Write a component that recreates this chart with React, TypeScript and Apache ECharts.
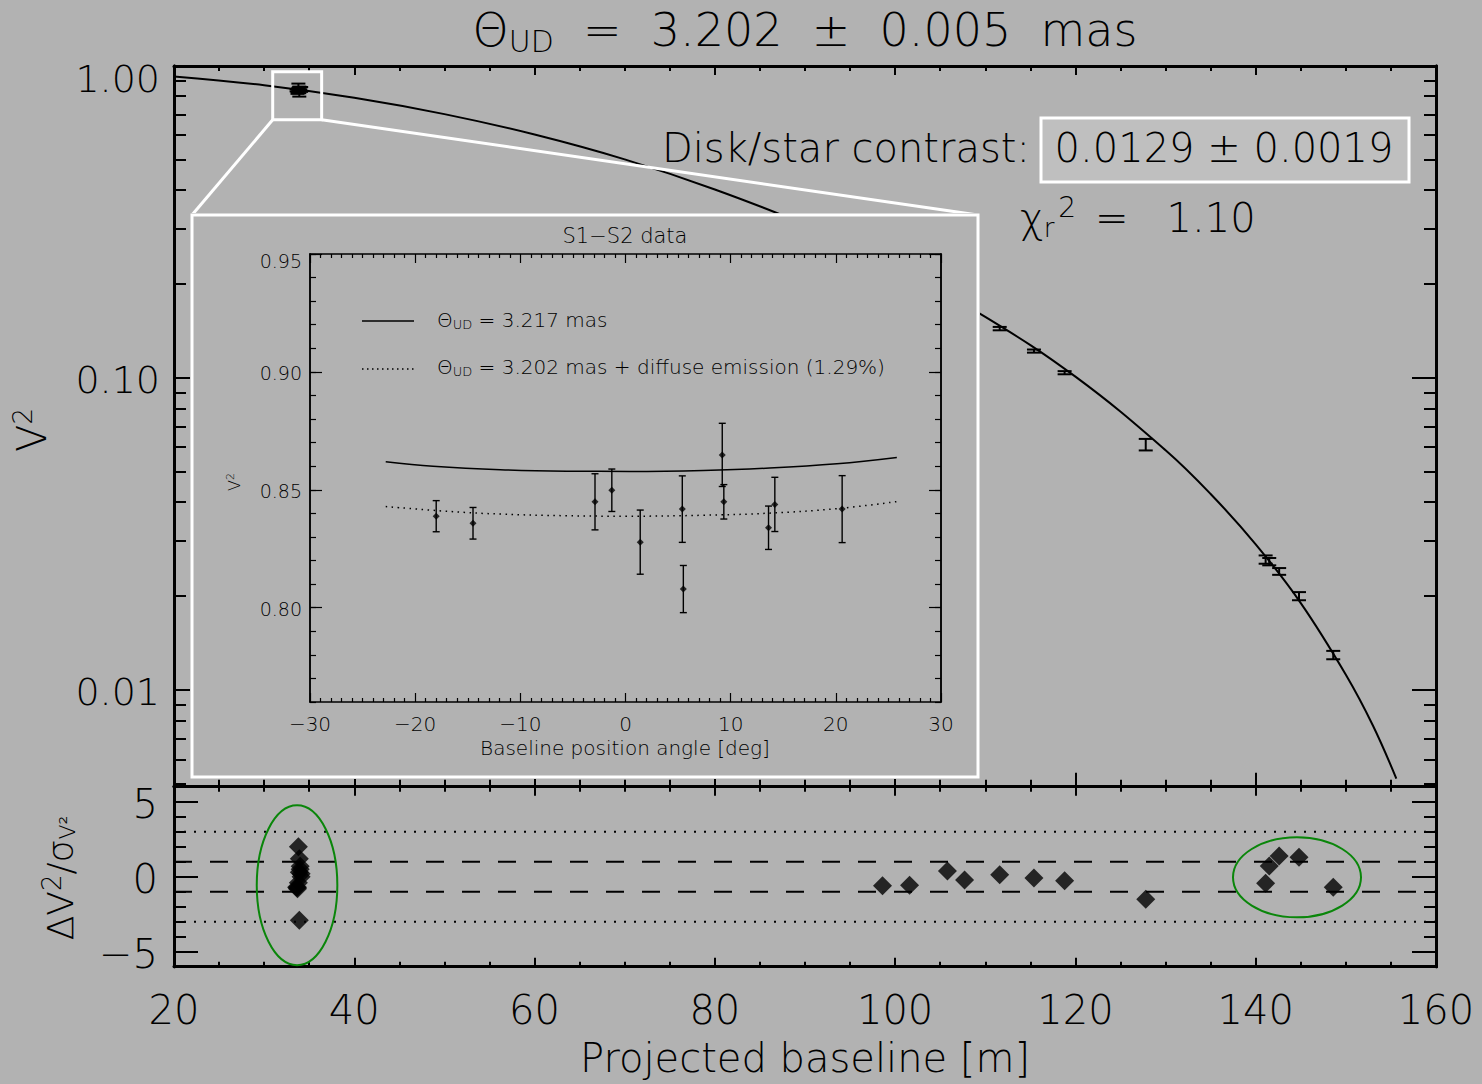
import React, { useEffect, useRef } from 'react';
import * as echarts from 'echarts';

const BG = '#b2b2b2';
const FONT = '"DejaVu Sans", sans-serif';
const FW = 200;

// ---------------- data: main panel ----------------
// best-fit visibility curve (baseline m, V^2)
const fitBaseline = [20, 30, 40, 50, 60, 70, 80, 90, 100, 110, 120, 130, 135, 140, 145, 150, 153, 155.6];
const fitV2 = [0.926, 0.868, 0.791, 0.701, 0.603, 0.502, 0.402, 0.310, 0.227, 0.157, 0.101, 0.0587, 0.0425, 0.0293, 0.0190, 0.0112, 0.0077, 0.0052];

// S1-S2 short-baseline points (also shown in the inset)
const s1s2Baseline = [33.8, 33.6, 34.0, 33.9, 33.7, 34.1, 33.9, 33.8, 34.0, 33.7, 33.9, 34.1];
const s1s2Angle = [-18.0, -14.5, -2.9, -1.3, 1.4, 5.4, 5.5, 9.2, 9.35, 13.6, 14.2, 20.6];
const s1s2V2 = [0.8388, 0.8358, 0.8449, 0.8498, 0.8278, 0.8418, 0.8079, 0.8648, 0.8449, 0.8339, 0.8438, 0.8418];
const s1s2Err = [0.0066, 0.0067, 0.0119, 0.0090, 0.0136, 0.0141, 0.0100, 0.0134, 0.0073, 0.0092, 0.0115, 0.0142];
const s1s2Resid = [-0.4, -0.7, 0.5, 1.2, -0.8, 0.2, -2.9, 2.0, 0.7, -0.7, 0.3, 0.0];

// long-baseline points
const longBaseline = [98.6, 101.6, 105.8, 107.7, 111.6, 115.4, 118.8, 127.8, 141.1, 141.5, 142.6, 144.8, 148.6];
const longV2 = [0.236, 0.213, 0.184, 0.171, 0.144, 0.122, 0.104, 0.0612, 0.0262, 0.0258, 0.0240, 0.0200, 0.01295];
const longErr = [0.002, 0.002, 0.0018, 0.0017, 0.0018, 0.0014, 0.0012, 0.0026, 0.0008, 0.0007, 0.0006, 0.0006, 0.0004];
const longResid = [-0.6, -0.57, 0.38, -0.22, 0.13, -0.09, -0.27, -1.51, -0.44, 0.71, 1.38, 1.29, -0.71];

// axis ticks
const mainMajorTicks = [0.01, 0.1, 1];
const mainMinorTicks = [0.005, 0.006, 0.007, 0.008, 0.009, 0.02, 0.03, 0.04, 0.05, 0.06, 0.07, 0.08, 0.09, 0.2, 0.3, 0.4, 0.5, 0.6, 0.7, 0.8, 0.9];
const residMajorTicks = [-5, 0, 5];
const residDashLevels = [1, -1];
const residDotLevels = [3, -3];

// highlight ellipses [center baseline, center residual, radius m, radius residual]
const highlightEllipses = [
  [33.65, -0.57, 4.47, 5.33],
  [144.58, -0.04, 7.1, 2.67],
];
// zoom box on the main panel [B0, V2top, B1, V2bottom]
const zoomBox = [[30.95, 0.9587, 36.38, 0.6724]];

// ---------------- data: inset ----------------
const insetSolidAngle = [-22.8, -18.3, -11.9, -5.6, 0.4, 7.4, 13.7, 20.1, 25.8];
const insetSolidV2 = [0.8619, 0.8600, 0.8585, 0.8579, 0.8578, 0.8582, 0.8592, 0.8610, 0.8637];
const insetDotAngle = [-22.8, -16.7, -11.9, -5.6, 0.1, 7.4, 13.7, 20.1, 25.8];
const insetDotV2 = [0.8429, 0.8408, 0.8397, 0.8390, 0.8388, 0.8392, 0.8401, 0.8420, 0.8450];
const insetMajorY = [0.80, 0.85, 0.90, 0.95];

// ---------------- layout ----------------
const INSET = { left: 190, top: 213, width: 790, height: 566 };
const INSET_BOX = { x: 2, y: 2, w: 786, h: 562 };

const minus = (v: number) => (v < 0 ? '\u2212' + Math.abs(v) : String(v));

function errorBarItem(cap: number, width: number) {
  return (params: any, api: any) => {
    const x = api.value(0);
    const v = api.value(1);
    const e = api.value(2);
    const top = api.coord([x, v + e]);
    const bot = api.coord([x, v - e]);
    const style = { stroke: '#000', lineWidth: width };
    return {
      type: 'group',
      children: [
        { type: 'line', shape: { x1: top[0], y1: top[1], x2: bot[0], y2: bot[1] }, style },
        { type: 'line', shape: { x1: top[0] - cap / 2, y1: top[1], x2: top[0] + cap / 2, y2: top[1] }, style },
        { type: 'line', shape: { x1: bot[0] - cap / 2, y1: bot[1], x2: bot[0] + cap / 2, y2: bot[1] }, style },
      ],
    };
  };
}

function xAx(grid: number, pos: string, showLabel: boolean, major: number, minor: number) {
  return {
    type: 'value', gridIndex: grid, position: pos, min: 20, max: 160, interval: 20,
    axisLine: { show: true, onZero: false, lineStyle: { color: '#000', width: 3 } },
    axisTick: { show: true, inside: true, length: major, lineStyle: { color: '#000', width: 2 } },
    minorTick: { show: true, splitNumber: 4, length: minor, lineStyle: { color: '#000', width: 2 } },
    splitLine: { show: false },
    minorSplitLine: { show: false },
    axisLabel: { show: showLabel, color: '#000', fontSize: 40, fontFamily: FONT, fontWeight: FW, margin: 23 },
  };
}

function logAx(pos: string, ticks: number[], len: number, showLabel: boolean) {
  return {
    type: 'log', logBase: 10, gridIndex: 0, position: pos, min: 0.0049, max: 1,
    axisLine: { show: true, onZero: false, lineStyle: { color: '#000', width: 3 } },
    axisTick: { show: true, inside: true, length: len, customValues: ticks, lineStyle: { color: '#000', width: 2 } },
    splitLine: { show: false },
    axisLabel: showLabel
      ? {
          show: true, customValues: mainMajorTicks,
          formatter: (v: number) => (v > 0.999 ? '{t|' + v.toFixed(2) + '}' : '{n|' + v.toFixed(2) + '}'),
          rich: {
            t: { fontSize: 38, fontFamily: FONT, fontWeight: FW, color: '#000', padding: [26, 0, 0, 0] },
            n: { fontSize: 38, fontFamily: FONT, fontWeight: FW, color: '#000', padding: [4, 0, 0, 0] },
          },
          color: '#000', fontSize: 38, fontFamily: FONT, fontWeight: FW, margin: 14,
        }
      : { show: false },
  };
}

function resAx(pos: string, major: boolean, showLabel: boolean) {
  const base: any = {
    type: 'value', gridIndex: 1, position: pos, min: -6, max: 6,
    axisLine: { show: true, onZero: false, lineStyle: { color: '#000', width: 3 } },
    splitLine: { show: false },
  };
  if (major) {
    base.axisTick = { show: true, inside: true, length: 24, customValues: residMajorTicks, lineStyle: { color: '#000', width: 2 } };
    base.axisLabel = showLabel
      ? {
          show: true, customValues: residMajorTicks,
          formatter: (v: number) => '{n|' + minus(v) + '}',
          rich: { n: { fontSize: 40, fontFamily: FONT, fontWeight: FW, color: '#000', padding: [5, 0, 0, 0] } },
          color: '#000', fontSize: 40, fontFamily: FONT, fontWeight: FW, margin: 16,
        }
      : { show: false };
  } else {
    base.interval = 1;
    base.axisTick = { show: true, inside: true, length: 12, lineStyle: { color: '#000', width: 2 } };
    base.axisLabel = { show: false };
  }
  return base;
}

function buildMain(): any {
  const errData = [
    ...s1s2Baseline.map((b, i) => [b, s1s2V2[i], s1s2Err[i]]),
    ...longBaseline.map((b, i) => [b, longV2[i], longErr[i]]),
  ];
  const residData = [
    ...s1s2Baseline.map((b, i) => [b, s1s2Resid[i]]),
    ...longBaseline.map((b, i) => [b, longResid[i]]),
  ];
  const guide = (lvl: number, type: any) => ({
    type: 'line', xAxisIndex: 2, yAxisIndex: 4, silent: true, symbol: 'none',
    data: [[20, lvl], [160, lvl]],
    lineStyle: { color: '#000', width: 2, type },
    z: 1,
  });
  return {
    animation: false,
    backgroundColor: BG,
    grid: [
      { left: 174, top: 66, width: 1262, height: 720.7, outerBoundsMode: 'none' },
      { left: 174, top: 786.7, width: 1262, height: 180, outerBoundsMode: 'none' },
    ],
    xAxis: [
      xAx(0, 'bottom', false, 14, 7),
      xAx(0, 'top', false, 9, 5),
      xAx(1, 'bottom', true, 9, 5),
      xAx(1, 'top', false, 9, 5),
    ],
    yAxis: [
      logAx('left', mainMajorTicks, 24, true),
      logAx('left', mainMinorTicks, 12, false),
      logAx('right', mainMajorTicks, 24, false),
      logAx('right', mainMinorTicks, 12, false),
      resAx('left', true, true),
      resAx('left', false, false),
      resAx('right', true, false),
      resAx('right', false, false),
    ],
    series: [
      {
        type: 'line', xAxisIndex: 0, yAxisIndex: 0, silent: true, symbol: 'none', smooth: 0.4,
        data: fitBaseline.map((b, i) => [b, fitV2[i]]),
        lineStyle: { color: '#000', width: 2 }, z: 3,
      },
      {
        type: 'custom', xAxisIndex: 0, yAxisIndex: 0, silent: true,
        data: errData, renderItem: errorBarItem(14, 2), z: 4,
      },
      {
        type: 'custom', xAxisIndex: 0, yAxisIndex: 0, silent: true, data: zoomBox, z: 5,
        renderItem: (params: any, api: any) => {
          const a = api.coord([api.value(0), api.value(1)]);
          const b = api.coord([api.value(2), api.value(3)]);
          const st = { stroke: '#fff', lineWidth: 3, fill: 'none' };
          return {
            type: 'group',
            children: [
              { type: 'rect', shape: { x: a[0], y: a[1], width: b[0] - a[0], height: b[1] - a[1] }, style: st },
              { type: 'line', shape: { x1: a[0], y1: b[1], x2: INSET.left + INSET_BOX.x, y2: INSET.top + INSET_BOX.y }, style: st },
              { type: 'line', shape: { x1: b[0], y1: b[1], x2: INSET.left + INSET_BOX.x + INSET_BOX.w, y2: INSET.top + INSET_BOX.y }, style: st },
            ],
          };
        },
      },
      guide(residDashLevels[0], [18, 18]),
      guide(residDashLevels[1], [18, 18]),
      guide(residDotLevels[0], [2, 8]),
      guide(residDotLevels[1], [2, 8]),
      {
        type: 'scatter', xAxisIndex: 2, yAxisIndex: 4, silent: true,
        symbol: 'diamond', symbolSize: 19, itemStyle: { color: '#000' },
        data: residData, z: 4,
      },
      {
        type: 'custom', xAxisIndex: 2, yAxisIndex: 4, silent: true, data: highlightEllipses, z: 5,
        renderItem: (params: any, api: any) => {
          const c = api.coord([api.value(0), api.value(1)]);
          const s = api.size([api.value(2), api.value(3)]);
          return { type: 'ellipse', shape: { cx: c[0], cy: c[1], rx: s[0], ry: s[1] }, style: { fill: 'none', stroke: '#0a860a', lineWidth: 2 } };
        },
      },
    ],
    graphic: [
      {
        type: 'text', x: 805, y: 30,
        style: {
          text: '{a|\u0398}{s|UD}{a|  =  3.202  \u00b1  0.005  mas}',
          align: 'center', verticalAlign: 'middle', fill: '#000',
          rich: {
            a: { fontSize: 46, fontFamily: FONT, fontWeight: FW, fill: '#000', verticalAlign: 'middle' },
            s: { fontSize: 30, fontFamily: FONT, fontWeight: FW, fill: '#000', verticalAlign: 'middle', padding: [22, 0, 0, 0] },
          },
        },
      },
      {
        type: 'text', x: 1030, y: 148,
        style: { text: 'Disk/star contrast:', align: 'right', verticalAlign: 'middle', fill: '#000', fontSize: 40, fontFamily: FONT, fontWeight: FW },
      },
      {
        type: 'rect', shape: { x: 1041, y: 118, width: 368, height: 64 },
        style: { fill: '#bfbfbf', stroke: '#fff', lineWidth: 3 }, z: 10,
      },
      {
        type: 'text', x: 1224, y: 148, z: 11,
        style: { text: '0.0129 \u00b1 0.0019', align: 'center', verticalAlign: 'middle', fill: '#000', fontSize: 40, fontFamily: FONT, fontWeight: FW },
      },
      {
        type: 'text', x: 1020, y: 218,
        style: {
          text: '{a|\u03c7}{s|r}{p|2}{a| =   1.10}',
          align: 'left', verticalAlign: 'middle', fill: '#000',
          rich: {
            a: { fontSize: 40, fontFamily: FONT, fontWeight: FW, fill: '#000', verticalAlign: 'middle' },
            s: { fontSize: 26, fontFamily: FONT, fontWeight: FW, fill: '#000', verticalAlign: 'middle', padding: [20, 0, 0, 0] },
            p: { fontSize: 28, fontFamily: FONT, fontWeight: FW, fill: '#000', verticalAlign: 'middle', padding: [0, 6, 22, 4] },
          },
        },
      },
      {
        type: 'text', x: 32, y: 430, rotation: Math.PI / 2,
        style: {
          text: '{a|V}{p|2}', align: 'center', verticalAlign: 'middle', fill: '#000',
          rich: {
            a: { fontSize: 40, fontFamily: FONT, fontWeight: FW, fill: '#000', verticalAlign: 'middle' },
            p: { fontSize: 26, fontFamily: FONT, fontWeight: FW, fill: '#000', verticalAlign: 'middle', padding: [0, 0, 18, 0] },
          },
        },
      },
      {
        type: 'text', x: 60, y: 878, rotation: Math.PI / 2,
        style: {
          text: '{a|\u0394V}{p|2}{a|/\u03c3}{s|V\u00b2}', align: 'center', verticalAlign: 'middle', fill: '#000',
          rich: {
            a: { fontSize: 36, fontFamily: FONT, fontWeight: FW, fill: '#000', verticalAlign: 'middle' },
            p: { fontSize: 26, fontFamily: FONT, fontWeight: FW, fill: '#000', verticalAlign: 'middle', padding: [0, 0, 16, 0] },
            s: { fontSize: 22, fontFamily: FONT, fontWeight: FW, fill: '#000', verticalAlign: 'middle', padding: [14, 0, 0, 0] },
          },
        },
      },
      {
        type: 'text', x: 805, y: 1058,
        style: { text: 'Projected baseline [m]', align: 'center', verticalAlign: 'middle', fill: '#000', fontSize: 40, fontFamily: FONT, fontWeight: FW },
      },
    ],
  };
}

function insetXAx(pos: string, showLabel: boolean) {
  return {
    type: 'value', position: pos, min: -30, max: 30, interval: 10,
    axisLine: { show: true, onZero: false, lineStyle: { color: '#000', width: 1.5 } },
    axisTick: { show: true, inside: true, length: 9, lineStyle: { color: '#000', width: 1.2 } },
    minorTick: { show: true, splitNumber: 10, length: 4, lineStyle: { color: '#000', width: 1.2 } },
    splitLine: { show: false },
    axisLabel: { show: showLabel, formatter: minus, color: '#000', fontSize: 20, fontFamily: FONT, fontWeight: FW, margin: 12 },
  };
}

function insetYAx(pos: string, major: boolean, showLabel: boolean) {
  const base: any = {
    type: 'value', position: pos, min: 0.76, max: 0.95,
    axisLine: { show: true, onZero: false, lineStyle: { color: '#000', width: 1.5 } },
    splitLine: { show: false },
  };
  if (major) {
    base.axisTick = { show: true, inside: true, length: 12, customValues: insetMajorY, lineStyle: { color: '#000', width: 1.2 } };
    base.axisLabel = showLabel
      ? {
          show: true, customValues: insetMajorY,
          formatter: (v: number) => (v > 0.949 ? '{t|' + v.toFixed(2) + '}' : '{n|' + v.toFixed(2) + '}'),
          rich: {
            t: { fontSize: 19, fontFamily: FONT, fontWeight: FW, color: '#000', padding: [14, 0, 0, 0] },
            n: { fontSize: 19, fontFamily: FONT, fontWeight: FW, color: '#000', padding: [2, 0, 0, 0] },
          },
          color: '#000', fontSize: 19, fontFamily: FONT, fontWeight: FW, margin: 8,
        }
      : { show: false };
  } else {
    base.interval = 0.01;
    base.axisTick = { show: true, inside: true, length: 6, lineStyle: { color: '#000', width: 1.2 } };
    base.axisLabel = { show: false };
  }
  return base;
}

function buildInset(): any {
  const ox = INSET.left;
  const oy = INSET.top;
  const txt = (extra: any) => ({ fill: '#000', fontFamily: FONT, fontWeight: FW, ...extra });
  return {
    animation: false,
    backgroundColor: BG,
    grid: { left: 310 - ox, top: 254 - oy, width: 631, height: 448, outerBoundsMode: 'none' },
    xAxis: [insetXAx('bottom', true), insetXAx('top', false)],
    yAxis: [insetYAx('left', true, true), insetYAx('left', false, false), insetYAx('right', true, false), insetYAx('right', false, false)],
    series: [
      {
        type: 'line', xAxisIndex: 0, yAxisIndex: 0, symbol: 'none', smooth: 0.4, silent: true,
        data: insetSolidAngle.map((a, i) => [a, insetSolidV2[i]]),
        lineStyle: { color: '#000', width: 1.5 },
      },
      {
        type: 'line', xAxisIndex: 0, yAxisIndex: 0, symbol: 'none', smooth: 0.4, silent: true,
        data: insetDotAngle.map((a, i) => [a, insetDotV2[i]]),
        lineStyle: { color: '#000', width: 1.5, type: [1.5, 4.5] },
      },
      {
        type: 'custom', xAxisIndex: 0, yAxisIndex: 0, silent: true,
        data: s1s2Angle.map((a, i) => [a, s1s2V2[i], s1s2Err[i]]),
        renderItem: errorBarItem(7, 1.4), z: 4,
      },
      {
        type: 'scatter', xAxisIndex: 0, yAxisIndex: 0, silent: true, symbol: 'diamond', symbolSize: 7,
        itemStyle: { color: '#000' }, data: s1s2Angle.map((a, i) => [a, s1s2V2[i]]), z: 5,
      },
    ],
    graphic: [
      { type: 'rect', shape: { x: INSET_BOX.x, y: INSET_BOX.y, width: INSET_BOX.w, height: INSET_BOX.h }, style: { fill: 'none', stroke: '#fff', lineWidth: 3 } },
      { type: 'text', x: 625 - ox, y: 236 - oy, style: txt({ text: 'S1\u2212S2 data', align: 'center', verticalAlign: 'middle', fontSize: 21 }) },
      { type: 'line', shape: { x1: 362 - ox, y1: 321 - oy, x2: 414 - ox, y2: 321 - oy }, style: { stroke: '#000', lineWidth: 1.5 } },
      { type: 'line', shape: { x1: 362 - ox, y1: 369 - oy, x2: 414 - ox, y2: 369 - oy }, style: { stroke: '#000', lineWidth: 1.5, lineDash: [1.5, 3.5] } },
      {
        type: 'text', x: 437 - ox, y: 320 - oy,
        style: {
          text: '{a|\u0398}{s|UD}{a| = 3.217 mas}', align: 'left', verticalAlign: 'middle',
          rich: { a: txt({ fontSize: 20, verticalAlign: 'middle' }), s: txt({ fontSize: 13, verticalAlign: 'middle', padding: [9, 0, 0, 0] }) },
        },
      },
      {
        type: 'text', x: 437 - ox, y: 367 - oy,
        style: {
          text: '{a|\u0398}{s|UD}{a| = 3.202 mas + diffuse emission (1.29%)}', align: 'left', verticalAlign: 'middle',
          rich: { a: txt({ fontSize: 20, verticalAlign: 'middle' }), s: txt({ fontSize: 13, verticalAlign: 'middle', padding: [9, 0, 0, 0] }) },
        },
      },
      {
        type: 'text', x: 234 - ox, y: 482 - oy, rotation: Math.PI / 2,
        style: {
          text: '{a|V}{p|2}', align: 'center', verticalAlign: 'middle',
          rich: { a: txt({ fontSize: 16, verticalAlign: 'middle' }), p: txt({ fontSize: 11, verticalAlign: 'middle', padding: [0, 0, 8, 0] }) },
        },
      },
      { type: 'text', x: 625 - ox, y: 748 - oy, style: txt({ text: 'Baseline position angle [deg]', align: 'center', verticalAlign: 'middle', fontSize: 20 }) },
    ],
  };
}

export default function App() {
  const mainRef = useRef<HTMLDivElement>(null);
  const insetRef = useRef<HTMLDivElement>(null);
  useEffect(() => {
    document.body.style.margin = '0';
    document.body.style.background = BG;
    const main = echarts.init(mainRef.current!, null, { renderer: 'svg' });
    const inset = echarts.init(insetRef.current!, null, { renderer: 'svg' });
    main.setOption(buildMain());
    inset.setOption(buildInset());
    return () => {
      main.dispose();
      inset.dispose();
    };
  }, []);
  return (
    <div style={{ position: 'relative', width: 1482, height: 1084, background: BG }}>
      <div ref={mainRef} style={{ position: 'absolute', left: 0, top: 0, width: 1482, height: 1084 }} />
      <div ref={insetRef} style={{ position: 'absolute', left: INSET.left, top: INSET.top, width: INSET.width, height: INSET.height }} />
    </div>
  );
}
